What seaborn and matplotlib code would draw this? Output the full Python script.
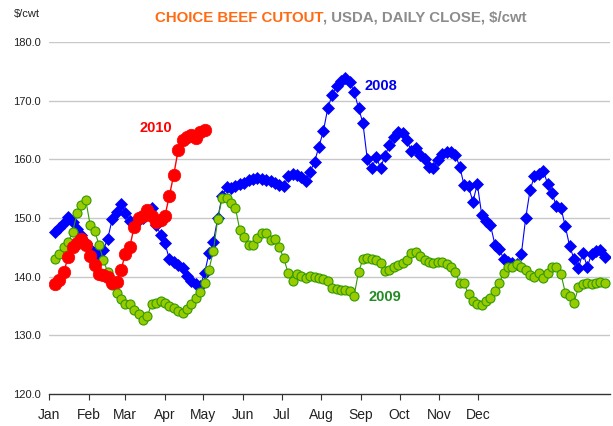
import matplotlib
matplotlib.use("Agg")
import matplotlib.pyplot as plt
import seaborn as sns
import numpy as np
import pandas as pd

sns.set_theme(style="white")
plt.rcParams['font.family'] = ['Liberation Sans Narrow', 'Liberation Sans', 'DejaVu Sans']

# daily close, sampled every 2 trading days (x = trading day of year)
beef_2008 = [147.6, 148.3, 149.2, 150.2, 149.3, 148.2, 147.2, 145.8, 144.8, 144.2,
             143.5, 144.6, 146.5, 149.8, 151.0, 152.4, 150.8, 149.5, 149.3, 149.6,
             150.0, 150.8, 151.7, 148.8, 147.2, 145.7, 143.0, 142.6, 142.0, 141.5,
             140.2, 139.3, 138.8, 138.5, 140.6, 144.0, 146.0, 150.0, 153.8, 155.3,
             155.1, 155.4, 155.8, 156.0, 156.5, 156.6, 156.9, 156.7, 156.5, 156.4,
             156.0, 155.6, 155.4, 157.2, 157.6, 157.3, 157.0, 156.4, 157.9, 159.6,
             162.2, 164.8, 168.7, 171.0, 172.5, 173.3, 173.9, 173.2, 171.5, 168.8,
             166.2, 160.0, 158.5, 160.4, 158.6, 160.6, 162.4, 163.8, 164.7, 164.5,
             163.3, 161.4, 162.0, 160.8, 160.0, 158.8, 158.6, 159.9, 160.9, 161.3,
             161.3, 160.8, 158.8, 155.6, 155.4, 152.8, 155.8, 150.6, 149.5, 148.8,
             145.5, 144.8, 143.0, 142.5, 142.3, 142.2, 143.8, 150.0, 154.8, 157.2,
             157.6, 158.1, 155.8, 154.2, 152.0, 151.8, 148.6, 145.2, 143.0, 141.5,
             144.1, 141.7, 143.9, 144.4, 144.5, 143.4]

beef_2009 = [143.0, 143.8, 145.0, 145.9, 147.6, 150.8, 152.2, 153.1, 148.8, 147.8,
             145.5, 142.8, 140.8, 138.6, 137.3, 136.2, 135.4, 135.3, 134.4, 133.7,
             132.7, 133.3, 135.4, 135.6, 135.8, 135.5, 135.0, 134.6, 134.2, 133.8,
             134.5, 135.4, 136.3, 137.4, 139.0, 141.2, 144.4, 149.8, 153.4, 153.5,
             152.5, 151.8, 148.0, 146.8, 145.4, 145.5, 146.6, 147.4, 147.4, 146.3,
             146.5, 145.0, 143.2, 140.6, 139.3, 140.4, 140.1, 139.8, 140.2, 140.0,
             139.8, 139.7, 139.3, 138.1, 137.9, 137.8, 137.8, 137.6, 136.8, 140.8,
             143.0, 143.2, 143.0, 142.9, 142.4, 140.9, 141.1, 141.6, 142.0, 142.3,
             142.8, 144.0, 144.2, 143.6, 142.9, 142.6, 142.4, 142.5, 142.5, 142.2,
             141.6, 140.8, 138.9, 138.9, 137.0, 135.8, 135.4, 135.2, 135.8, 136.4,
             137.5, 139.0, 140.6, 141.6, 141.6, 142.1, 141.6, 141.1, 140.3, 140.0,
             140.6, 139.8, 140.6, 141.7, 141.7, 140.5, 137.3, 136.8, 135.6, 138.2,
             138.7, 138.9, 138.7, 138.9, 139.1, 138.9]

beef_2010 = [138.8, 139.4, 140.8, 143.4, 145.1, 145.7, 146.4, 145.4, 143.6, 142.0,
             140.5, 140.3, 140.0, 139.0, 139.1, 141.2, 143.8, 145.1, 148.5, 150.1,
             150.3, 151.3, 150.4, 149.3, 149.6, 150.4, 153.8, 157.4, 161.6, 163.4,
             163.9, 164.1, 163.6, 164.6, 165.1]

months = ["Jan", "Feb", "Mar", "Apr", "May", "Jun", "Jul", "Aug", "Sep", "Oct", "Nov", "Dec"]
month_pos = [0, 18.3, 34.4, 52.6, 70.1, 88.2, 105.9, 123.8, 141.7, 159.4, 177.4, 195.0]
y_ticks = [120, 130, 140, 150, 160, 170, 180]

def frame(vals, year):
    return pd.DataFrame({"day": 2.7 + 2 * np.arange(len(vals)), "price": vals, "year": year})

d08, d09, d10 = frame(beef_2008, 2008), frame(beef_2009, 2009), frame(beef_2010, 2010)

fig = plt.figure(figsize=(6.13, 4.26), dpi=100)
ax = fig.add_axes([0.080, 0.075, 0.915, 0.826])

for y in y_ticks[1:]:
    ax.axhline(y, color="#c8c8c8", lw=1.0, zorder=0)

sns.lineplot(data=d08, x="day", y="price", ax=ax, color="#0000ff", lw=0.8,
             marker="D", markersize=6.5, markeredgecolor="#0000ff", markeredgewidth=0.5)
sns.lineplot(data=d09, x="day", y="price", ax=ax, color="#339900", lw=0.8,
             marker="o", markersize=6.5, markerfacecolor="#99cc00",
             markeredgecolor="#339900", markeredgewidth=0.8)
sns.lineplot(data=d10, x="day", y="price", ax=ax, color="#ff0000", lw=1.0,
             marker="o", markersize=9, markerfacecolor="#ff0000",
             markeredgecolor="#ff0000", markeredgewidth=0.5)

ax.text(151, 172.5, "2008", color="#0000ee", fontsize=10.5, fontweight="bold", ha="center", va="center")
ax.text(152.7, 136.5, "2009", color="#228b22", fontsize=10.5, fontweight="bold", ha="center", va="center")
ax.text(48.6, 165.4, "2010", color="#ff0000", fontsize=10.5, fontweight="bold", ha="center", va="center")

ax.set_xlim(0, 255)
ax.set_ylim(120, 180)
ax.set_xticks(month_pos)
ax.set_xticklabels(months, fontsize=10, color="#222222")
ax.set_yticks(y_ticks)
ax.set_yticklabels([f"{v:.1f}" for v in y_ticks], fontsize=8, color="#222222")
ax.tick_params(axis="x", direction="out", length=4, width=0.8, color="#333333", pad=6, bottom=True)
ax.tick_params(axis="y", length=0, pad=6)
ax.set_xlabel("")
ax.set_ylabel("")
for s in ["top", "right", "left"]:
    ax.spines[s].set_visible(False)
ax.spines["bottom"].set_color("#333333")
ax.spines["bottom"].set_linewidth(1.0)

fig.text(0.022, 0.967, "$/cwt", fontsize=8, color="#222222", ha="left", va="center")
fig.text(0.527, 0.958, "CHOICE BEEF CUTOUT", fontsize=10.8, color="#ff6a13",
         fontweight="bold", ha="right", va="center")
fig.text(0.527, 0.958, ", USDA, DAILY CLOSE, $/cwt", fontsize=10.8, color="#8c8c8c",
         fontweight="bold", ha="left", va="center")

fig.savefig("out.png", dpi=100)
